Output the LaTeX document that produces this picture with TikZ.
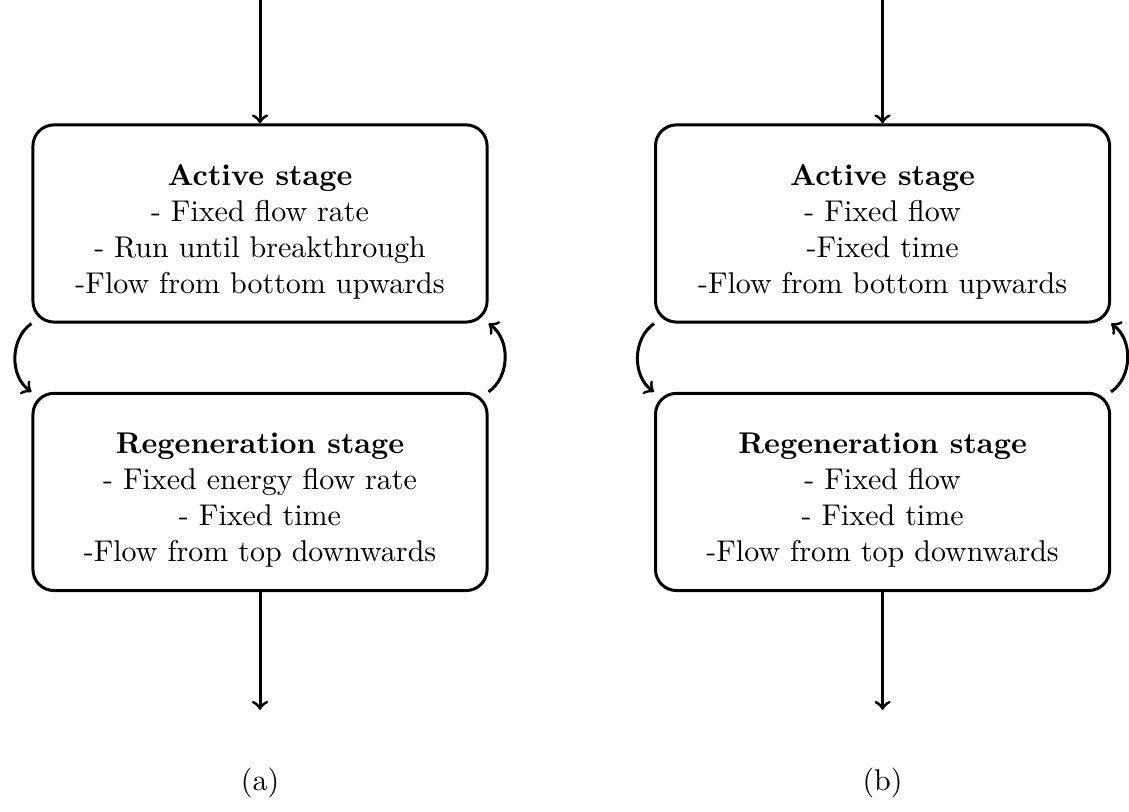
\documentclass[tikz,border=0pt]{standalone}
\usepackage{tikz}
\usetikzlibrary{positioning}

\newcommand{\stagetitle}[1]{\rule{0pt}{12.5pt}\textbf{#1}}

\begin{document}
\begin{tikzpicture}[
    stagebox/.style={
        rectangle,
        rounded corners=7pt,
        minimum width=5.32cm,
        minimum height=2.31cm,
        draw,
        line width=1pt,
        align=center
    },
    flow/.style={->, line width=1pt}
]
    \useasboundingbox (0,0) rectangle (13.226,-9.501);

    % === (a) ===
    \node[stagebox] (activeA) at (3.046,-2.618) {
        \stagetitle{Active stage}\\
        - Fixed flow rate\\
        - Run until breakthrough\\
        -Flow from bottom upwards
    };
    \node[stagebox, below=0.8cm of activeA] (regenA) {
        \stagetitle{Regeneration stage}\\
        - Fixed energy flow rate\\
        - Fixed time\\
        -Flow from top downwards
    };

    \coordinate[above=1.46cm of activeA.north] (inA);
    \coordinate[below=1.38cm of regenA.south] (outA);
    \draw[flow] (inA) -- (activeA);
    \draw[flow] (regenA) -- (outA);
    \draw[flow] (activeA.south west) to[bend right=55] (regenA.north west);
    \draw[flow] (regenA.north east) to[bend right=55] (activeA.south east);

    \node (capA) at (3.046,-9.17) {(a)};

    % === (b) ===
    \node[stagebox] (activeB) at (10.339,-2.618) {
        \stagetitle{Active stage}\\
        - Fixed flow\\
        -Fixed time\\
        -Flow from bottom upwards
    };
    \node[stagebox, below=0.8cm of activeB] (regenB) {
        \stagetitle{Regeneration stage}\\
        - Fixed flow\\
        - Fixed time\\
        -Flow from top downwards
    };

    \coordinate[above=1.46cm of activeB.north] (inB);
    \coordinate[below=1.38cm of regenB.south] (outB);
    \draw[flow] (inB) -- (activeB);
    \draw[flow] (regenB) -- (outB);
    \draw[flow] (activeB.south west) to[bend right=55] (regenB.north west);
    \draw[flow] (regenB.north east) to[bend right=55] (activeB.south east);

    \node (capB) at (10.339,-9.17) {(b)};
\end{tikzpicture}
\end{document}
